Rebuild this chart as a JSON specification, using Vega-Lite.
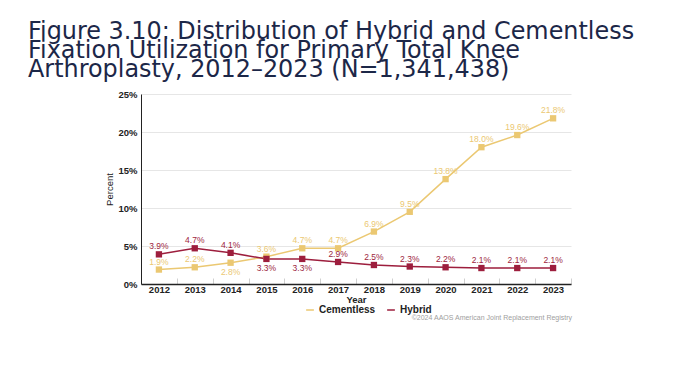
{
  "$schema": "https://vega.github.io/schema/vega-lite/v6.json",
  "width": 430,
  "height": 190,
  "autosize": "none",
  "padding": {"left": 141, "top": 94, "right": 109, "bottom": 98},
  "background": "white",
  "config": {
    "font": "Liberation Sans",
    "view": {"stroke": null}
  },
  "title": {
    "text": ["Figure 3.10: Distribution of Hybrid and Cementless", "Fixation Utilization for Primary Total Knee", "Arthroplasty, 2012–2023 (N=1,341,438)"],
    "anchor": "start",
    "frame": "group",
    "font": "DejaVu Sans",
    "fontSize": 23.9,
    "fontWeight": "normal",
    "color": "#1c2748",
    "lineHeight": 19.3,
    "dx": -113,
    "dy": -3
  },
  "data": {
    "values": [
      {"year": "2012", "series": "Cementless", "pct": 0.019},
      {"year": "2013", "series": "Cementless", "pct": 0.022},
      {"year": "2014", "series": "Cementless", "pct": 0.028},
      {"year": "2015", "series": "Cementless", "pct": 0.036},
      {"year": "2016", "series": "Cementless", "pct": 0.047},
      {"year": "2017", "series": "Cementless", "pct": 0.047},
      {"year": "2018", "series": "Cementless", "pct": 0.069},
      {"year": "2019", "series": "Cementless", "pct": 0.095},
      {"year": "2020", "series": "Cementless", "pct": 0.138},
      {"year": "2021", "series": "Cementless", "pct": 0.180},
      {"year": "2022", "series": "Cementless", "pct": 0.196},
      {"year": "2023", "series": "Cementless", "pct": 0.218},
      {"year": "2012", "series": "Hybrid", "pct": 0.039},
      {"year": "2013", "series": "Hybrid", "pct": 0.047},
      {"year": "2014", "series": "Hybrid", "pct": 0.041},
      {"year": "2015", "series": "Hybrid", "pct": 0.033},
      {"year": "2016", "series": "Hybrid", "pct": 0.033},
      {"year": "2017", "series": "Hybrid", "pct": 0.029},
      {"year": "2018", "series": "Hybrid", "pct": 0.025},
      {"year": "2019", "series": "Hybrid", "pct": 0.023},
      {"year": "2020", "series": "Hybrid", "pct": 0.022},
      {"year": "2021", "series": "Hybrid", "pct": 0.021},
      {"year": "2022", "series": "Hybrid", "pct": 0.021},
      {"year": "2023", "series": "Hybrid", "pct": 0.021}
    ]
  },
  "encoding": {
    "x": {
      "field": "year", "type": "ordinal", "bandPosition": 0.5,
      "scale": {"type": "band", "paddingInner": 0, "paddingOuter": 0},
      "axis": {
        "title": "Year", "labelAngle": 0, "labelFontWeight": "bold", "labelFontSize": 9.5,
        "labelColor": "#222", "titleFontSize": 9.5, "titleFontWeight": "bold", "titleColor": "#222",
        "titlePadding": 1, "labelPadding": 6,
        "domainColor": "#222", "domainWidth": 1.5,
        "tickBand": "extent", "tickColor": "#d0d0d0", "tickSize": -6, "ticks": true,
        "grid": false
      }
    },
    "y": {
      "field": "pct", "type": "quantitative",
      "scale": {"domain": [0, 0.25]},
      "axis": {
        "title": "Percent", "format": ".0%", "values": [0, 0.05, 0.1, 0.15, 0.2, 0.25],
        "labelFontSize": 9.5, "labelColor": "#222", "labelFontWeight": "bold",
        "titleFontSize": 9.5, "titleFontWeight": "normal", "titleColor": "#222", "titlePadding": 3,
        "ticks": false, "labelPadding": 4,
        "domainColor": "#222", "domainWidth": 1,
        "gridColor": "#e6e6e6", "gridWidth": 1
      }
    },
    "color": {
      "field": "series", "type": "nominal",
      "scale": {"domain": ["Cementless", "Hybrid"], "range": ["#ebc872", "#9d1e3d"]},
      "legend": {
        "title": null, "orient": "none", "legendX": 164, "legendY": 211, "direction": "horizontal",
        "symbolType": "stroke", "symbolSize": 60, "symbolStrokeWidth": 1.5,
        "labelFontSize": 10, "labelFontWeight": "bold", "labelColor": "#222",
        "padding": 0, "columnPadding": 8, "labelOffset": 4
      }
    }
  },
  "layer": [
    {"mark": {"type": "line", "strokeWidth": 1.5}},
    {"mark": {"type": "square", "size": 40, "filled": true, "opacity": 1}},
    {
      "transform": [{"filter": "!((datum.series == 'Cementless' && datum.year == '2014') || (datum.series == 'Hybrid' && (datum.year == '2015' || datum.year == '2016')))"}],
      "mark": {"type": "text", "dy": -8, "fontSize": 8.5},
      "encoding": {
        "text": {"field": "pct", "type": "quantitative", "format": ".1%"}
      }
    },
    {
      "transform": [{"filter": "(datum.series == 'Cementless' && datum.year == '2014') || (datum.series == 'Hybrid' && (datum.year == '2015' || datum.year == '2016'))"}],
      "mark": {"type": "text", "dy": 9, "fontSize": 8.5},
      "encoding": {
        "text": {"field": "pct", "type": "quantitative", "format": ".1%"}
      }
    },
    {
      "data": {"values": [{"note": "©2024 AAOS American Joint Replacement Registry", "year": "2023"}]},
      "mark": {"type": "text", "align": "right", "fontSize": 7, "xOffset": 19, "dy": 34, "clip": false},
      "encoding": {
        "x": {"field": "year", "type": "ordinal", "bandPosition": 0.5},
        "y": {"value": {"expr": "height"}},
        "text": {"field": "note", "type": "nominal"},
        "color": {"value": "#a0a0a0"}
      }
    }
  ]
}
